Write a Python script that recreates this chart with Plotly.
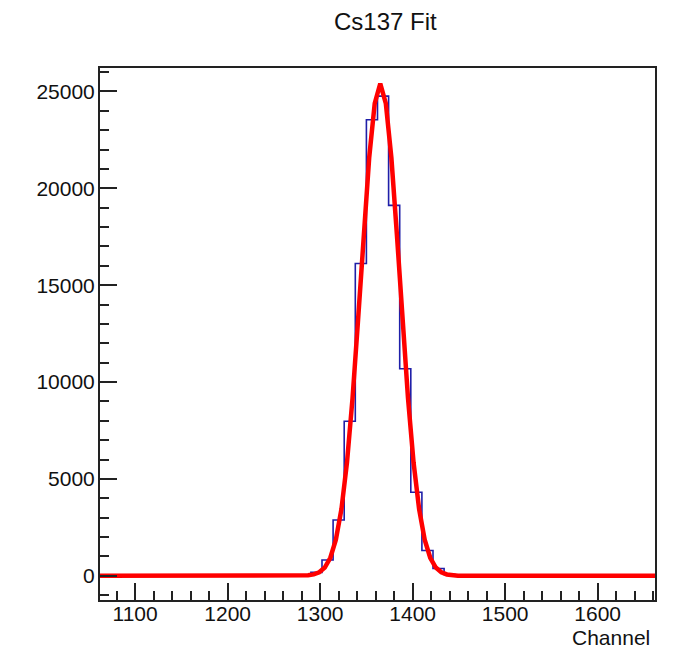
import plotly.graph_objects as go

# ---- data ----
hist_range = [1062, 1662]
bin_edges = [1278, 1290, 1302, 1314, 1326, 1338, 1350, 1362, 1374, 1386,
             1398, 1410, 1422, 1434, 1446, 1458]
bin_counts = [30, 180, 820, 2880, 7980, 16120, 23540, 24760, 19120, 10690,
              4310, 1310, 380, 70, 10]

fit_x = [1062, 1275, 1281, 1287, 1293, 1299, 1305, 1311, 1317, 1323, 1329,
         1335, 1341, 1347, 1353, 1359, 1365, 1371, 1377, 1383, 1389, 1395,
         1401, 1407, 1413, 1419, 1425, 1431, 1437, 1443, 1449, 1455, 1662]
fit_y = [0, 3, 9, 26, 71, 182, 429, 931, 1864, 3438, 5845,
         9157, 13218, 17592, 21575, 24384, 25400, 24384, 21575, 17592, 13218, 9157,
         5845, 3438, 1864, 931, 429, 182, 71, 26, 9, 3, 0]

x_ticks = [1100, 1200, 1300, 1400, 1500, 1600]
x_tick_labels = ["1100", "1200", "1300", "1400", "1500", "1600"]
y_ticks = [0, 5000, 10000, 15000, 20000, 25000]
y_tick_labels = ["0", "5000", "10000", "15000", "20000", "25000"]
y_range = [-1248, 26210]

title_text = "Cs137 Fit"
x_title = "Channel"

# ---- figure ----
hx = [hist_range[0]] + bin_edges + [hist_range[1]]
hy = [0] + bin_counts + [0, 0]

FONT = "Liberation Sans, Arial, Helvetica, sans-serif"

fig = go.Figure()
fig.add_trace(go.Scatter(x=hx, y=hy, mode="lines", line=dict(shape="hv", color="#1f1fa8", width=1.6),
                         hoverinfo="skip", showlegend=False))
fig.add_trace(go.Scatter(x=fit_x, y=fit_y, mode="lines", line=dict(color="#ff0000", width=4.5),
                         hoverinfo="skip", showlegend=False))

axis_common = dict(
    showgrid=False, zeroline=False, showline=True, linecolor="#222222", linewidth=2,
    mirror=True, ticks="inside", tickcolor="#222222", tickwidth=1.5,
    tickfont=dict(family=FONT, size=21, color="#111111"), layer="above traces",
)

fig.update_xaxes(range=hist_range, tickvals=x_ticks, ticktext=x_tick_labels, ticklen=17,
                 ticklabelstandoff=-6,
                 minor=dict(ticks="inside", dtick=20, tick0=1100, ticklen=9,
                            tickcolor="#222222", tickwidth=1.5),
                 **axis_common)
fig.update_yaxes(range=y_range, tickvals=y_ticks, ticktext=y_tick_labels, ticklen=17,
                 ticklabelstandoff=-1,
                 minor=dict(ticks="inside", dtick=1000, tick0=0, ticklen=9,
                            tickcolor="#222222", tickwidth=1.5),
                 **axis_common)

fig.update_layout(
    width=677, height=649,
    margin=dict(l=100, r=22, t=68, b=49),
    paper_bgcolor="white", plot_bgcolor="white",
    font=dict(family=FONT, color="#111111"),
    annotations=[
        dict(text=title_text, xref="paper", yref="paper", x=0.514, y=1 + 46 / 532,
             xanchor="center", yanchor="middle", showarrow=False,
             font=dict(family=FONT, size=24, color="#111111")),
        dict(text=x_title, xref="paper", yref="paper", x=0.995, y=-37 / 532,
             xanchor="right", yanchor="middle", showarrow=False,
             font=dict(family=FONT, size=21, color="#111111")),
    ],
)

fig.write_html("out.html")
